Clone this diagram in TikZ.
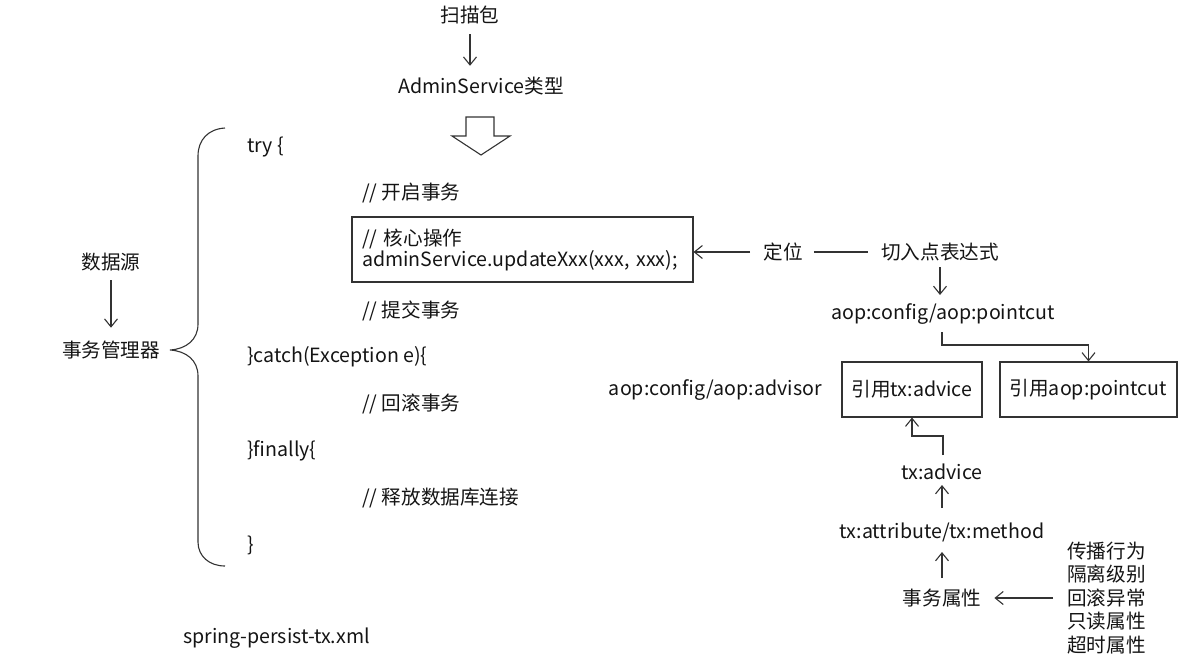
\documentclass[tikz,border=0pt]{standalone}
\usepackage{fontspec}
\setmainfont{Noto Sans CJK SC}
\usetikzlibrary{arrows.meta}
\begin{document}
\begin{tikzpicture}[x=1pt,y=-1pt,
  every node/.style={inner sep=0pt, text=black!92},
  txt/.style={font=\fontsize{19.6}{23}\selectfont},
  code/.style={txt, anchor=west},
  boxed/.style={draw=black!80, line width=1.1pt, minimum height=55, inner sep=0pt, txt},
  line/.style={draw=black!80, line width=1.1pt},
  arr/.style={line, -{Straight Barb[length=8pt,width=13pt,line width=1.1pt]}}
]
\useasboundingbox (0,0) rectangle (1199,659);

% top
\node[txt] (scan) at (470,15) {扫描包};
\node[txt] (admin) at (481,86) {AdminService类型};
\draw[arr] ([yshift=-10]scan.south) -- ([yshift=11]scan.south |- admin.north);
\draw[line] (466,117) -- (494,117) -- (494,136) -- (510,136) -- (481,155) -- (452,136) -- (466,136) -- cycle;

% left
\node[txt] (ds) at (111,262) {数据源};
\node[txt] (tm) at (111,350) {事务管理器};
\draw[arr] ([yshift=-9]ds.south) -- ([yshift=13]ds.south |- tm.north);
\draw[line] (225,128) .. controls (208,129) and (198,140) .. (198,156) -- (198,324)
  .. controls (198,340) and (186,349) .. (170,350)
  .. controls (186,351) and (198,360) .. (198,376) -- (198,542)
  .. controls (198,556) and (209,566) .. (225,566);

% code
\node[code] (try) at (247,147) {try \{};
\node[code] (begin) at (362,193) {// 开启事务};
\node[boxed, minimum width=341, minimum height=65, text width=321, align=left,
  font=\fontsize{19.6}{21}\selectfont] (core) at (522.5,249.5) {// 核心操作\\adminService.updateXxx(xxx, xxx);};
\node[code] (commit) at (362,311) {// 提交事务};
\node[code] (catch) at (247,357) {\}catch(Exception e)\{};
\node[code] (rollback) at (362,404) {// 回滚事务};
\node[code] (finally) at (247,451) {\}finally\{};
\node[code] (release) at (362,498) {// 释放数据库连接};
\node[code] (close) at (247,545) {\}};
\node[code] (file) at (183,638) {spring-persist-tx.xml};

% right
\node[txt] (dw) at (783,252) {定位};
\node[txt] (expr) at (940,252) {切入点表达式};
\draw[arr] ([xshift=-13]dw.west) -- (core.east |- dw);
\draw[line] ([xshift=11]dw.east) -- ([xshift=-13]expr.west);
\node[txt] (pc) at (943,314) {aop:config/aop:pointcut};
\draw[arr] ([yshift=-6]expr.south -| 940,0) -- (940,295);
\node[boxed, minimum width=140] (reftx) at (912,389.5) {引用tx:advice};
\node[boxed, minimum width=177] (refpc) at (1088.5,389.5) {引用aop:pointcut};
\draw[arr] (942,332) -- (942,345) -| (refpc.north);
\node[txt, anchor=east] (adv) at (822,390) {aop:config/aop:advisor};
\node[txt] (txa) at (942,472) {tx:advice};
\draw[arr] (943,455) -- (943,436) -| (reftx.south);
\node[txt] (txm) at (942,532) {tx:attribute/tx:method};
\draw[arr] (942,508) -- (942,485);
\node[txt] (attr) at (942,598) {事务属性};
\draw[arr] (942,578) -- (942,552);
\node[txt, anchor=west, align=left, font=\fontsize{19.6}{23.5}\selectfont] (list) at (1067,598)
  {传播行为\\隔离级别\\回滚异常\\只读属性\\超时属性};
\draw[arr] ([xshift=-14]list.west) -- ([xshift=13]attr.east);
\end{tikzpicture}
\end{document}
